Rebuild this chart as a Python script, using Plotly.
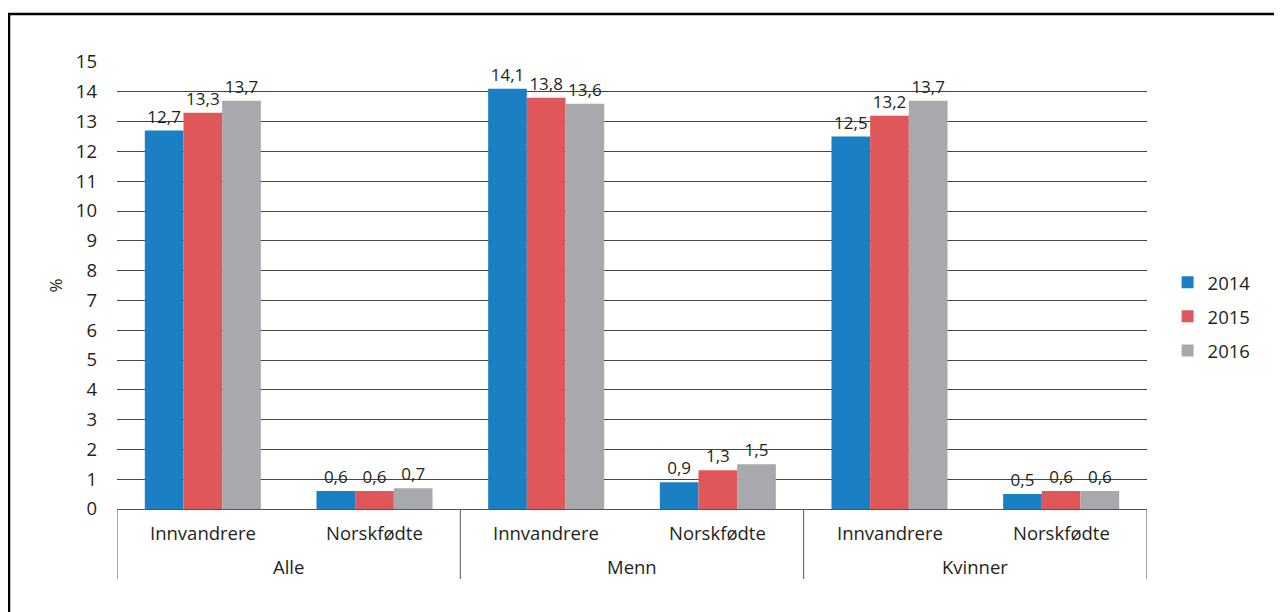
import plotly.graph_objects as go

groups = ["Alle", "Menn", "Kvinner"]
subcats = ["Innvandrere", "Norskfødte"]
years = ["2014", "2015", "2016"]
v2014 = [12.7, 0.6, 14.1, 0.9, 12.5, 0.5]
v2015 = [13.3, 0.6, 13.8, 1.3, 13.2, 0.6]
v2016 = [13.7, 0.7, 13.6, 1.5, 13.7, 0.6]
colors = ["#1b80c3", "#e05759", "#a8a9ad"]
yticks = list(range(0, 16))

FONT = "Open Sans"
W, H = 1274, 604
L, T, PW, PH = 109, 54, 1030, 447

keys = [f"{g} | {s}" for g in groups for s in subcats]

fig = go.Figure()
for name, vals, col in zip(years, [v2014, v2015, v2016], colors):
    fig.add_trace(go.Bar(
        x=keys, y=vals, name=name, legendgroup=name,
        marker=dict(color=col, line=dict(width=0)),
        texttemplate="%{y:.1f}", textposition="outside",
        textfont=dict(size=17, color="#231f20", family=FONT),
        cliponaxis=False,
    ))

annotations = []
shapes = []
ns = len(subcats)
for gi, g in enumerate(groups):
    for si, s in enumerate(subcats):
        annotations.append(dict(x=keys[gi * ns + si], xref="x", y=-23 / PH, yref="paper",
                                text=s, showarrow=False, yanchor="middle",
                                font=dict(size=18.5, color="#231f20")))
    annotations.append(dict(x=gi * ns + (ns - 1) / 2, xref="x", y=-57 / PH, yref="paper",
                            text=g, showarrow=False, yanchor="middle",
                            font=dict(size=18.5, color="#231f20")))
for gi in range(len(groups) + 1):
    xd = gi * ns - 0.5
    shapes.append(dict(type="line", xref="x", yref="paper", x0=xd, x1=xd,
                       y0=0, y1=-70 / PH, line=dict(color="#555555", width=1)))

shapes.append(dict(type="rect", xref="paper", yref="paper",
                   x0=(1 - L) / PW, x1=1.3, y0=-0.3, y1=(T + PH - 6) / PH,
                   line=dict(color="black", width=2.5), layer="below"))

fig.update_layout(
    width=W, height=H,
    margin=dict(l=L, r=W - L - PW, t=T, b=H - T - PH),
    paper_bgcolor="white", plot_bgcolor="white",
    font=dict(family=FONT, size=18, color="#231f20"),
    separators=", ",
    barmode="group", bargap=0.324, bargroupgap=0,
    showlegend=True,
    legend=dict(x=1.020, y=0.43, yanchor="middle", xanchor="left",
                font=dict(size=18.5), tracegroupgap=7, itemwidth=30),
    xaxis=dict(type="category", showline=True, linecolor="#555555", linewidth=1,
               ticks="", showgrid=False, showticklabels=False,
               range=[-0.5, len(keys) - 0.5]),
    yaxis=dict(range=[0, 15], tickvals=yticks, showgrid=True, gridcolor="#444444",
               gridwidth=1, zeroline=False, showline=False, ticks="",
               ticklabelstandoff=19, tickfont=dict(size=18.5),
               title=dict(text="%", font=dict(size=17), standoff=8)),
    annotations=annotations,
    shapes=shapes,
)
fig.write_html("out.html")
